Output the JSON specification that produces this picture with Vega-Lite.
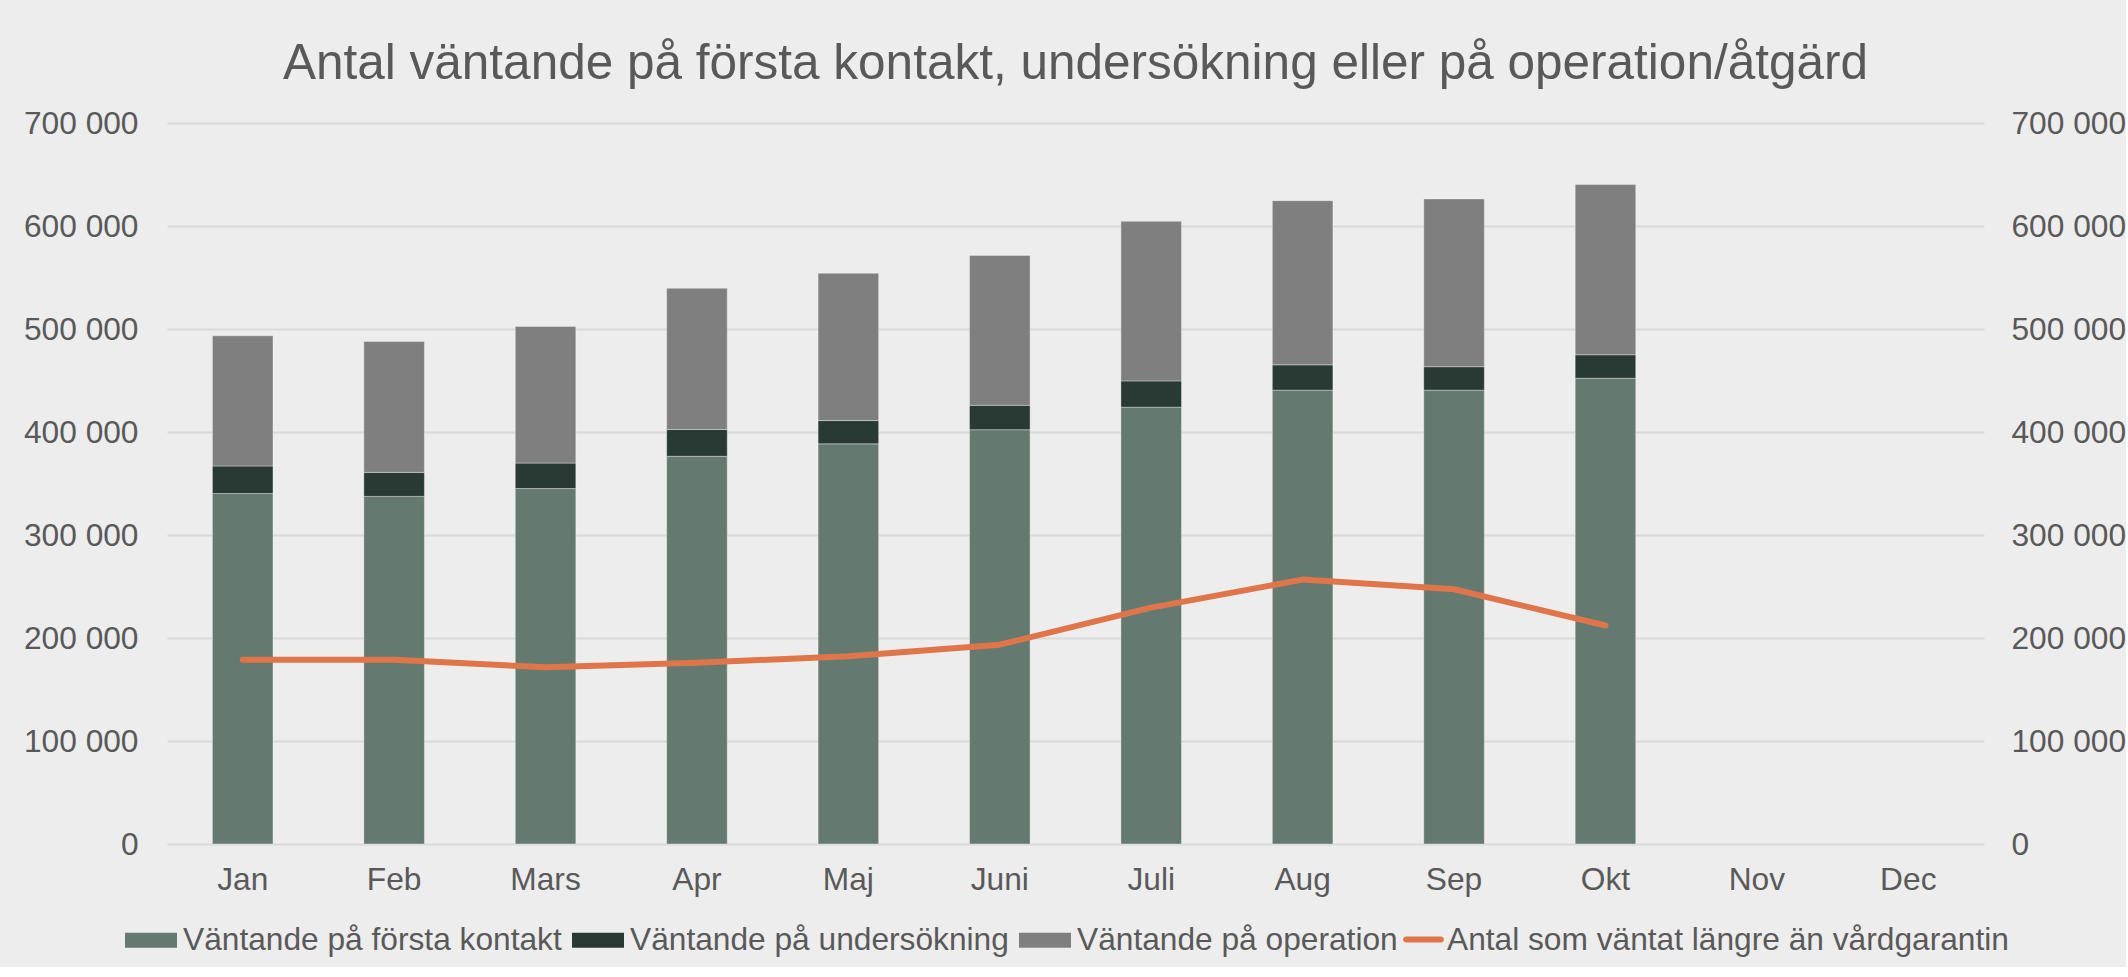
{
  "$schema": "https://vega.github.io/schema/vega-lite/v6.json",
  "width": 1817,
  "height": 721,
  "padding": {"left": 23, "top": 38, "right": 0, "bottom": 10},
  "background": "#EDEDED",
  "title": {
    "text": "Antal väntande på första kontakt, undersökning eller på operation/åtgärd",
    "fontSize": 49.5,
    "font": "Liberation Sans",
    "fontWeight": "normal",
    "color": "#595959",
    "anchor": "middle",
    "offset": 19
  },
  "datasets": {
    "staplar": [
      {"manad": "Jan", "serie": "Väntande på första kontakt", "antal": 340300},
      {"manad": "Jan", "serie": "Väntande på undersökning", "antal": 26700},
      {"manad": "Jan", "serie": "Väntande på operation", "antal": 126400},
      {"manad": "Feb", "serie": "Väntande på första kontakt", "antal": 337500},
      {"manad": "Feb", "serie": "Väntande på undersökning", "antal": 23300},
      {"manad": "Feb", "serie": "Väntande på operation", "antal": 127000},
      {"manad": "Mars", "serie": "Väntande på första kontakt", "antal": 345100},
      {"manad": "Mars", "serie": "Väntande på undersökning", "antal": 24700},
      {"manad": "Mars", "serie": "Väntande på operation", "antal": 132600},
      {"manad": "Apr", "serie": "Väntande på första kontakt", "antal": 376400},
      {"manad": "Apr", "serie": "Väntande på undersökning", "antal": 26000},
      {"manad": "Apr", "serie": "Väntande på operation", "antal": 137100},
      {"manad": "Maj", "serie": "Väntande på första kontakt", "antal": 388500},
      {"manad": "Maj", "serie": "Väntande på undersökning", "antal": 22600},
      {"manad": "Maj", "serie": "Väntande på operation", "antal": 143000},
      {"manad": "Juni", "serie": "Väntande på första kontakt", "antal": 402200},
      {"manad": "Juni", "serie": "Väntande på undersökning", "antal": 23700},
      {"manad": "Juni", "serie": "Väntande på operation", "antal": 145500},
      {"manad": "Juli", "serie": "Väntande på första kontakt", "antal": 424100},
      {"manad": "Juli", "serie": "Väntande på undersökning", "antal": 25500},
      {"manad": "Juli", "serie": "Väntande på operation", "antal": 154900},
      {"manad": "Aug", "serie": "Väntande på första kontakt", "antal": 440600},
      {"manad": "Aug", "serie": "Väntande på undersökning", "antal": 24600},
      {"manad": "Aug", "serie": "Väntande på operation", "antal": 159400},
      {"manad": "Sep", "serie": "Väntande på första kontakt", "antal": 440600},
      {"manad": "Sep", "serie": "Väntande på undersökning", "antal": 22800},
      {"manad": "Sep", "serie": "Väntande på operation", "antal": 162900},
      {"manad": "Okt", "serie": "Väntande på första kontakt", "antal": 452200},
      {"manad": "Okt", "serie": "Väntande på undersökning", "antal": 22800},
      {"manad": "Okt", "serie": "Väntande på operation", "antal": 165200}
    ],
    "linje": [
      {"manad": "Jan", "antal": 178800},
      {"manad": "Feb", "antal": 178800},
      {"manad": "Mars", "antal": 171500},
      {"manad": "Apr", "antal": 176000},
      {"manad": "Maj", "antal": 182300},
      {"manad": "Juni", "antal": 193500},
      {"manad": "Juli", "antal": 229500},
      {"manad": "Aug", "antal": 256700},
      {"manad": "Sep", "antal": 247300},
      {"manad": "Okt", "antal": 212100}
    ]
  },
  "layer": [
    {
      "data": {"name": "staplar"},
      "transform": [
        {"window": [{"op": "row_number", "as": "nr"}], "groupby": ["manad"]}
      ],
      "mark": {"type": "bar", "stroke": "#ffffff", "strokeOpacity": 0.35, "strokeWidth": 1},
      "encoding": {
        "x": {
          "field": "manad",
          "type": "nominal",
          "title": null,
          "sort": null,
          "scale": {
            "domain": ["Jan", "Feb", "Mars", "Apr", "Maj", "Juni", "Juli", "Aug", "Sep", "Okt", "Nov", "Dec"],
            "paddingInner": 0.6,
            "paddingOuter": 0.3
          },
          "axis": {
            "labelAngle": 0,
            "domain": false,
            "ticks": false,
            "labelPadding": 20,
            "labelFontSize": 31.7,
            "labelColor": "#595959",
            "grid": false
          }
        },
        "y": {
          "field": "antal",
          "type": "quantitative",
          "stack": "zero",
          "title": null,
          "scale": {"domain": [0, 700000], "nice": false},
          "axis": {
            "orient": "left",
            "values": [0, 100000, 200000, 300000, 400000, 500000, 600000, 700000],
            "labelExpr": "replace(format(datum.value, ','), ',', ' ')",
            "domain": false,
            "ticks": false,
            "labelPadding": 29,
            "labelFontSize": 31.7,
            "labelColor": "#595959",
            "grid": true,
            "gridColor": "#D9D9D9",
            "gridWidth": 2
          }
        },
        "color": {
          "field": "serie",
          "type": "nominal",
          "scale": {
            "domain": ["Väntande på första kontakt", "Väntande på undersökning", "Väntande på operation"],
            "range": ["#647A70", "#283A33", "#7F7F7F"]
          },
          "legend": {
            "title": null,
            "orient": "none",
            "legendX": -42,
            "legendY": 791,
            "direction": "horizontal",
            "labelFontSize": 31.7,
            "labelColor": "#595959",
            "labelLimit": 1000,
            "labelOffset": 6,
            "columnPadding": 10,
            "symbolSize": 2704,
            "symbolType": "M-1,-0.288H1V0.288H-1Z",
            "symbolStrokeWidth": 0,
            "symbolOpacity": 1
          }
        },
        "order": {"field": "nr", "sort": "ascending"}
      }
    },
    {
      "data": {"name": "linje"},
      "mark": {"type": "line", "strokeWidth": 6, "strokeCap": "round", "strokeJoin": "round"},
      "encoding": {
        "x": {
          "field": "manad",
          "type": "nominal",
          "sort": null,
          "scale": {
            "domain": ["Jan", "Feb", "Mars", "Apr", "Maj", "Juni", "Juli", "Aug", "Sep", "Okt", "Nov", "Dec"]
          }
        },
        "y": {
          "field": "antal",
          "type": "quantitative",
          "title": null,
          "scale": {"domain": [0, 700000], "nice": false},
          "axis": {
            "orient": "right",
            "values": [0, 100000, 200000, 300000, 400000, 500000, 600000, 700000],
            "labelExpr": "replace(format(datum.value, ','), ',', ' ')",
            "domain": false,
            "ticks": false,
            "labelPadding": 27,
            "labelFontSize": 31.7,
            "labelColor": "#595959",
            "grid": false
          }
        },
        "stroke": {
          "datum": "Antal som väntat längre än vårdgarantin",
          "type": "nominal",
          "scale": {"range": ["#E07549"]},
          "legend": {
            "title": null,
            "orient": "none",
            "legendX": 1236,
            "legendY": 796,
            "direction": "horizontal",
            "labelFontSize": 31.7,
            "labelColor": "#595959",
            "labelLimit": 1000,
            "labelOffset": 3,
            "symbolSize": 1681,
            "symbolType": "M-0.85,-0.146H0.85A0.146,0.146 0 0 1 0.85,0.146H-0.85A0.146,0.146 0 0 1 -0.85,-0.146Z",
            "symbolFillColor": "#E07549",
            "symbolStrokeWidth": 0,
            "symbolOpacity": 1
          }
        }
      }
    }
  ],
  "resolve": {"scale": {"y": "independent"}},
  "config": {
    "font": "Liberation Sans",
    "view": {"stroke": null}
  }
}
